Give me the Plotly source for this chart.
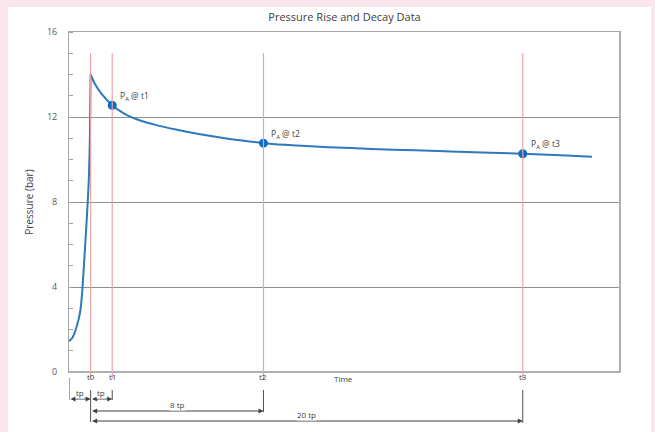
import plotly.graph_objects as go

# ---- data ----
rise_x = [0, 0.15, 0.3, 0.45, 0.54, 0.62, 0.75, 0.85, 0.92, 0.97, 1.0]
rise_p = [1.45, 1.6, 1.96, 2.5, 3.0, 3.9, 6.0, 7.7, 9.15, 11.2, 14.0]

decay_x = [1.0, 1.2, 1.5, 2.0, 2.3, 2.7, 3.2, 4, 5, 6, 7, 8, 9, 10, 11, 12, 14, 16, 18, 21, 23, 24.2]
decay_p = [14.0, 13.55, 13.1, 12.55, 12.32, 12.08, 11.87, 11.63, 11.4, 11.2, 11.03, 10.89, 10.77,
           10.69, 10.63, 10.58, 10.5, 10.43, 10.37, 10.27, 10.19, 10.13]

t_marks = [1, 2, 9, 21]
t_labels = ["t0", "t1", "t2", "t3"]

sample_t = [2, 9, 21]
sample_p = [12.55, 10.77, 10.27]
sample_labels = ["P<sub>A</sub> @ t1", "P<sub>A</sub> @ t2", "P<sub>A</sub> @ t3"]

dim_start = [0, 1, 1, 1]
dim_end = [1, 2, 9, 21]
dim_text = ["tp", "tp", "8 tp", "20 tp"]

y_ticks = [0, 4, 8, 12, 16]

# ---- layout geometry (pixels) ----
W, H = 655, 432
L, R, T, B = 69, 620, 32, 372
def py(p):
    return (B - p) / (B - T)
def px(p):
    return (p - L) / (R - L)

FONT = "Open Sans"
TXT = "#404040"
LINE = "#2e78bd"
PINK = "#fbe6ef"

fig = go.Figure()
fig.add_trace(go.Scatter(x=rise_x, y=rise_p, mode="lines",
                         line=dict(color=LINE, width=2, shape="spline", smoothing=0.8),
                         hoverinfo="skip", showlegend=False))
fig.add_trace(go.Scatter(x=decay_x, y=decay_p, mode="lines",
                         line=dict(color=LINE, width=2, shape="spline", smoothing=0.8),
                         hoverinfo="skip", showlegend=False))
fig.add_trace(go.Scatter(x=sample_t, y=sample_p, mode="markers",
                         marker=dict(color="#0a6cc4", size=9), showlegend=False))

shapes = []
# white panel
shapes.append(dict(type="rect", xref="paper", yref="paper", layer="below",
                   x0=px(8), x1=px(651), y0=py(440), y1=py(7),
                   fillcolor="white", line=dict(width=0)))
# border shadow
shapes.append(dict(type="line", xref="paper", yref="paper", x0=1, x1=1,
                   y0=py(B + 1), y1=py(T), line=dict(color="#b0b0b0", width=2)))
shapes.append(dict(type="line", xref="paper", yref="paper", x0=0, x1=1,
                   y0=0, y1=0, line=dict(color="#b0b0b0", width=2)))
# red time lines
for t in t_marks:
    shapes.append(dict(type="line", xref="x", yref="paper", x0=t, x1=t,
                       y0=py(379), y1=py(53), line=dict(color="#eaa5a8", width=1.2)))
# extension lines for dimensions
ext = {0: (378, 400), 1: (390, 422), 2: (390, 400), 9: (390, 412), 21: (390, 423)}
for xv, (a, b) in ext.items():
    shapes.append(dict(type="line", xref="x", yref="paper", x0=xv, x1=xv,
                       y0=py(b), y1=py(a), line=dict(color="#505050", width=1)))

annotations = []
for t, lab in zip(t_marks, t_labels):
    annotations.append(dict(x=t, y=py(384), xref="x", yref="paper", text=lab,
                            showarrow=False, font=dict(family=FONT, size=8, color=TXT)))
annotations.append(dict(x=12.7, y=py(386), xref="x", yref="paper", text="Time",
                        showarrow=False, font=dict(family=FONT, size=8, color=TXT)))
for t, p, lab in zip(sample_t, sample_p, sample_labels):
    annotations.append(dict(x=t, y=p, xref="x", yref="y", text=lab, showarrow=False,
                            xanchor="left", yanchor="middle", xshift=6, yshift=9,
                            font=dict(family=FONT, size=8.5, color=TXT)))
dim_y = [399, 399, 411, 421]
for s, e, lab, yy in zip(dim_start, dim_end, dim_text, dim_y):
    annotations.append(dict(x=e, y=py(yy), xref="x", yref="paper", ax=s, ay=0,
                            axref="x", ayref="pixel", text="", showarrow=True,
                            arrowhead=2, arrowsize=1, arrowwidth=1,
                            arrowside="end+start", arrowcolor="#404040", standoff=0,
                            startstandoff=0))
    annotations.append(dict(x=(s + e) / 2, y=py(yy), xref="x", yref="paper", text=lab,
                            showarrow=False, bgcolor="white", borderpad=0,
                            font=dict(family=FONT, size=8, color=TXT)))

fig.update_layout(
    width=W, height=H,
    margin=dict(l=L, r=W - R, t=T, b=H - B, pad=0, autoexpand=False),
    paper_bgcolor=PINK, plot_bgcolor="white",
    title=dict(text="Pressure Rise and Decay Data", x=0.5, xref="paper",
               y=1 - 17 / H, yanchor="middle", automargin=False,
               font=dict(family=FONT, size=11, color=TXT)),
    xaxis=dict(range=[0, 25.5], showgrid=False, zeroline=False, showticklabels=False,
               ticks="", showline=True, mirror=True, linecolor="#a8a8a8", linewidth=1,
               automargin=False),
    yaxis=dict(range=[0, 16], tickvals=y_ticks, showgrid=True, gridcolor="#8f8f8f",
               gridwidth=1, zeroline=False, showline=True, mirror=True,
               linecolor="#a8a8a8", linewidth=1, ticks="", automargin=False,
               ticklabelstandoff=9,
               tickfont=dict(family=FONT, size=9, color="#595959"),
               minor=dict(dtick=1, ticks="inside", ticklen=4, tickcolor="#a0a0a0",
                          showgrid=False),
               title=dict(text="Pressure (bar)", standoff=11,
                          font=dict(family=FONT, size=10, color=TXT))),
    shapes=shapes, annotations=annotations,
)

fig.write_html("out.html", config={"displayModeBar": False},
               post_script="document.body.style.margin='0';"
                           "document.body.style.background='" + PINK + "';")
